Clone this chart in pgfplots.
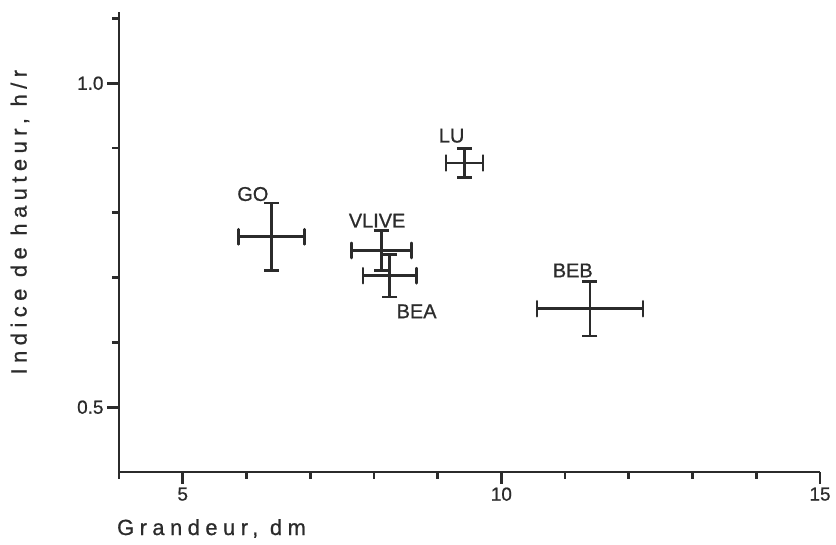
\documentclass[border=0pt]{standalone}
\usepackage{pgfplots}
\pgfplotsset{compat=1.18}
\usepackage{fontspec}
\setmainfont{Liberation Sans}[FakeBold=0.8]
\newfontfamily\heavy[FakeBold=0.8]{Liberation Sans}
\newfontfamily\spaced[LetterSpace=25,FakeBold=0.8]{Liberation Sans}
\definecolor{ink}{HTML}{2B2B2B}
\pgfplotstableread{
x y ex ey
6.39 0.763 0.52 0.052
8.12 0.742 0.47 0.031
8.25 0.703 0.42 0.033
9.42 0.877 0.29 0.022
11.39 0.652 0.83 0.042
}\pts
% end caps of the horizontal bars (x - ex, x + ex)
\pgfplotstableread{
x y c
5.87 0.763 0.0116
6.91 0.763 0.0116
7.65 0.742 0.0116
8.59 0.742 0.0116
7.83 0.703 0.0116
8.67 0.703 0.0116
9.13 0.877 0.0116
9.71 0.877 0.0116
10.56 0.652 0.0116
12.22 0.652 0.0116
}\caps
\begin{document}
\begin{tikzpicture}[x=1bp,y=1bp]
\useasboundingbox (0,0) rectangle (836,545);
\begin{axis}[
  at={(119bp,73bp)}, anchor=south west,
  scale only axis, width=701bp, height=460bp,
  xmin=4, xmax=15, ymin=0.4, ymax=1.11,
  axis lines=left, axis line style={-, line width=2.7bp, ink},
  xtick={5,10,15}, minor xtick={4,6,7,8,9,11,12,13,14},
  ytick={0.5,1.0}, minor ytick={0.6,0.7,0.8,0.9,1.1},
  yticklabel style={/pgf/number format/fixed, /pgf/number format/precision=1, /pgf/number format/fixed zerofill},
  tick align=outside,
  major tick length=12bp, minor tick length=7bp,
  every tick/.style={line width=2.7bp, ink},
  tick label style={font=\heavy\fontsize{19}{21}\selectfont, text=ink},
  /pgf/number format/assume math mode=true,
  xlabel={Grandeur, dm},
  xlabel style={at={(axis description cs:-0.003,-0.137)}, anchor=base west, inner sep=0pt, font=\spaced\fontsize{22}{24}\selectfont, text=ink},
  ylabel={Indice de hauteur, h/r},
  ylabel style={at={(axis description cs:-0.1412,0.543)}, anchor=center, inner sep=0pt, font=\spaced\fontsize{22}{24}\selectfont, text=ink},
  clip=false,
]
\addplot[ink, line width=2.7bp, draw=none, mark=none,
  error bars/.cd, x dir=both, x explicit, error mark=none,
  error bar style={draw=ink, line width=2.7bp}]
  table[x=x, y=y, x error=ex] {\pts};
\addplot[ink, line width=2.7bp, draw=none, mark=none,
  error bars/.cd, y dir=both, y explicit, error mark=none,
  error bar style={draw=ink, line width=2.7bp, line cap=round}]
  table[x=x, y=y, y error=c] {\caps};
\addplot[ink, line width=2.7bp, draw=none, mark=none,
  error bars/.cd, y dir=both, y explicit,
  error bar style={draw=ink, line width=2.7bp},
  error mark options={rotate=90, draw=ink, mark size=7.5bp, line width=2.7bp}]
  table[x=x, y=y, y error=ey] {\pts};
\begin{scope}[every node/.style={font=\heavy\fontsize{20}{22}\selectfont, text=ink}]
\node at (axis cs:6.10,0.829) {GO};
\node at (axis cs:8.05,0.788) {VLIVE};
\node at (axis cs:8.67,0.648) {BEA};
\node at (axis cs:9.22,0.919) {LU};
\node at (axis cs:11.12,0.711) {BEB};
\end{scope}
\end{axis}
\end{tikzpicture}
\end{document}
